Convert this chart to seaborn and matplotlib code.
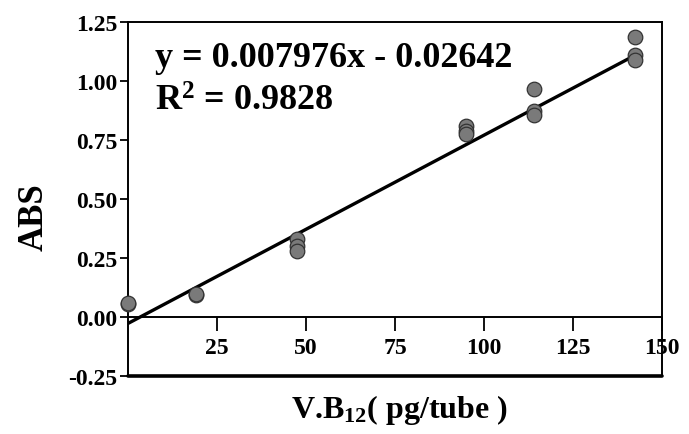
import numpy as np
import pandas as pd
import matplotlib
matplotlib.use("Agg")
import matplotlib.pyplot as plt
import seaborn as sns

# data
conc = [0, 0, 19, 19, 47.5, 47.5, 47.5, 95, 95, 95, 114, 114, 114, 142.5, 142.5, 142.5]
absb = [0.055, 0.06, 0.095, 0.10, 0.33, 0.30, 0.28, 0.81, 0.79, 0.775, 0.965, 0.875, 0.855, 1.185, 1.11, 1.09]
slope = 0.007976
intercept = -0.02642
r2 = 0.9828
xticks = [25, 50, 75, 100, 125, 150]
yticks = [-0.25, 0.00, 0.25, 0.50, 0.75, 1.00, 1.25]

sns.set_theme(style="white")
plt.rcParams['font.family'] = ['Liberation Serif', 'DejaVu Serif']
plt.rcParams['font.weight'] = 'bold'
plt.rcParams['text.color'] = 'black'
plt.rcParams['xtick.color'] = 'black'
plt.rcParams['ytick.color'] = 'black'
plt.rcParams['mathtext.fontset'] = 'custom'
plt.rcParams['mathtext.rm'] = 'Liberation Serif:bold'
plt.rcParams['mathtext.bf'] = 'Liberation Serif:bold'
plt.rcParams['mathtext.it'] = 'Liberation Serif:bold'

df = pd.DataFrame({"x": conc, "y": absb})

fig = plt.figure(figsize=(6.89, 4.35), dpi=100)
ax = fig.add_axes([0.186, 0.133, 0.775, 0.814])

sns.scatterplot(data=df, x="x", y="y", ax=ax, s=110, color="#7a7a7a",
                edgecolor="#333333", linewidth=0.9, zorder=3, clip_on=False)
xf = np.array([min(conc), max(conc)])
ax.plot(xf, slope * xf + intercept, color="black", lw=2.4, zorder=2)

ax.set_xlim(0, 150)
ax.set_ylim(-0.25, 1.25)
ax.spines['bottom'].set_position(('data', 0))
for s in ['left', 'right', 'top', 'bottom']:
    ax.spines[s].set_visible(True)
    ax.spines[s].set_color('black')
    ax.spines[s].set_linewidth(1.4)
ax.axhline(-0.25, color='black', lw=2.6, clip_on=False)

ax.set_xticks(xticks)
ax.set_xticklabels([str(t) for t in xticks])
ax.set_yticks(yticks)
ax.set_yticklabels([f"{t:.2f}" for t in yticks])
ax.tick_params(axis='x', direction='out', length=10, width=1.3, color='black',
               labelsize=17, pad=4, bottom=True, labelcolor='black')
ax.tick_params(axis='y', direction='out', length=6, width=1.3, color='black',
               labelsize=17, pad=2, left=True, labelcolor='black')
for lab in ax.get_xticklabels() + ax.get_yticklabels():
    lab.set_fontweight('bold')

ax.set_xlabel("")
ax.set_ylabel("")
fig.text(0.050, 0.50, "ABS", rotation=90, fontsize=25, fontweight='bold',
         ha='center', va='center')
fig.text(0.580, 0.058, r"V.B$_{12}$( pg/tube )", fontsize=23, fontweight='bold',
         ha='center', va='center')

ax.text(0.05, 0.90, f"y = {slope:.6f}x - {abs(intercept):.5f}", transform=ax.transAxes,
        fontsize=26, fontweight='bold', ha='left', va='center')
ax.text(0.05, 0.775, f"R$^2$ = {r2:.4f}", transform=ax.transAxes,
        fontsize=26, fontweight='bold', ha='left', va='center')

fig.savefig("out.png", dpi=100)
